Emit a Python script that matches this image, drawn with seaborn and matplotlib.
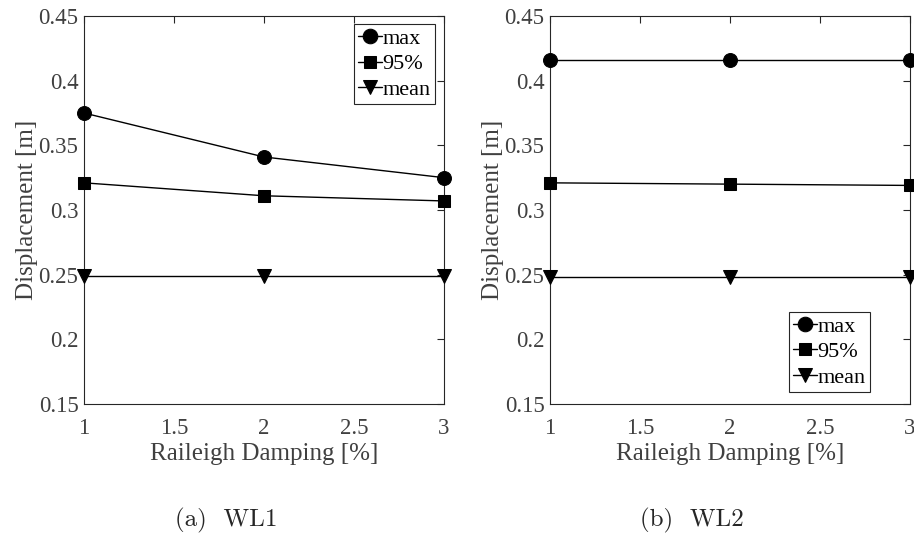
import matplotlib
matplotlib.use("Agg")
import matplotlib.pyplot as plt
import seaborn as sns
import pandas as pd

damping = [1, 2, 3]
wl1_max = [0.375, 0.341, 0.325]
wl1_p95 = [0.321, 0.311, 0.307]
wl1_mean = [0.249, 0.249, 0.249]
wl2_max = [0.416, 0.416, 0.416]
wl2_p95 = [0.321, 0.320, 0.319]
wl2_mean = [0.248, 0.248, 0.248]
labels = ["max", "95%", "mean"]
captions = ["(a)  WL1", "(b)  WL2"]
yticks = [0.15, 0.2, 0.25, 0.3, 0.35, 0.4, 0.45]
xticks = [1, 1.5, 2, 2.5, 3]

sns.set_theme(style="white")
plt.rcParams["font.family"] = ["Liberation Serif", "DejaVu Serif"]
grey = "#262626"
tgrey = "#404040"

fig = plt.figure(figsize=(9.14, 5.38), dpi=100)
ax1 = fig.add_axes([84/914, 1-404/538, 360/914, 388/538])
ax2 = fig.add_axes([550/914, 1-404/538, 360/914, 388/538])

markers = ["o", "s", "v"]
msizes = [10, 8, 10]

for ax, series, loc, anchor in [
        (ax1, [wl1_max, wl1_p95, wl1_mean], "upper right", ((435-84)/360, (404-24)/388)),
        (ax2, [wl2_max, wl2_p95, wl2_mean], "lower right", ((870-550)/360, (404-392)/388))]:
    for vals, lab, m, ms in zip(series, labels, markers, msizes):
        df = pd.DataFrame({"x": damping, "y": vals})
        sns.lineplot(data=df, x="x", y="y", ax=ax, color="black", lw=1.0,
                     marker=m, markersize=ms, markeredgecolor="black",
                     label=lab, clip_on=False, zorder=5)
    ax.set_xlim(1, 3)
    ax.set_ylim(0.15, 0.45)
    ax.set_xticks(xticks)
    ax.set_xticklabels(["1", "1.5", "2", "2.5", "3"])
    ax.set_yticks(yticks)
    ax.set_yticklabels(["0.15", "0.2", "0.25", "0.3", "0.35", "0.4", "0.45"])
    ax.tick_params(direction="in", top=True, right=True, length=5, width=0.8,
                   color=grey, labelcolor=tgrey, labelsize=16.5)
    ax.tick_params(axis="x", pad=10)
    ax.tick_params(axis="y", pad=4)
    for s in ax.spines.values():
        s.set_color(grey)
        s.set_linewidth(0.8)
    ax.set_xlabel("Raileigh Damping [%]", fontsize=18, color=tgrey, labelpad=3)
    ax.set_ylabel("Displacement [m]", fontsize=18, color=tgrey, labelpad=0)
    leg = ax.legend(loc=loc, bbox_to_anchor=anchor, fontsize=16, handlelength=1.1,
                    handletextpad=0.0, borderpad=0.2, labelspacing=0.22,
                    borderaxespad=0.0, fancybox=False, framealpha=1,
                    edgecolor=grey, markerscale=1.05)
    leg.get_frame().set_linewidth(0.8)
    for t in leg.get_texts():
        t.set_color("black")

fig.text(226/914, 1-520/538, captions[0], ha="center", va="center",
         fontsize=18, family=["cmr10", "DejaVu Serif"])
fig.text(692/914, 1-520/538, captions[1], ha="center", va="center",
         fontsize=18, family=["cmr10", "DejaVu Serif"])

fig.savefig("out.png", dpi=100)
